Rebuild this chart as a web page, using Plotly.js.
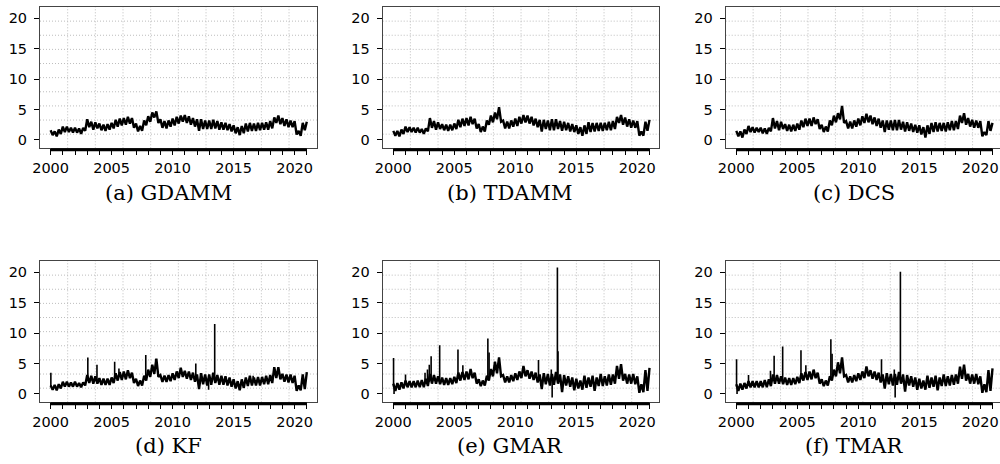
<!DOCTYPE html>
<html><head><meta charset="utf-8">
<script src="https://cdn.plot.ly/plotly-3.0.1.min.js"></script>
<style>html,body{margin:0;padding:0;background:#fff}</style>
</head><body><div id="chart" style="width:1000px;height:464px"></div>
<script>
// sampling: one reading every two months from 2000.0 to 2021.0 (alternating upper / lower side of the noisy band)
const startYear = 2000;
const stepsPerYear = 6;
const captions = ['(a) GDAMM', '(b) TDAMM', '(c) DCS', '(d) KF', '(e) GMAR', '(f) TMAR'];
const yTicks = [0, 5, 10, 15, 20];
const xTickYears = [2000,2001,2002,2003,2004,2005,2006,2007,2008,2009,2010,2011,2012,2013,2014,2015,2016,2017,2018,2019,2020,2021];
const xLabelYears = [2000, 2005, 2010, 2015, 2020];

const gdamm = [
1.6,0.8,1.4,0.6,1.7,1.0, 2.2,1.3,2.2,1.3,2.0,1.2, 2.0,1.2,1.9,1.0,2.0,1.5, 3.4,2.1,3.0,1.7,2.9,1.9,
2.7,1.6,2.5,1.5,2.6,1.7, 2.8,1.9,3.3,2.2,3.5,2.4, 3.6,2.5,3.8,2.7,3.6,2.0, 2.7,1.4,2.3,1.5,3.2,2.4,
3.9,3.0,4.5,3.7,4.7,2.8, 3.4,2.0,3.1,1.9,3.2,2.2, 3.5,2.4,3.8,2.7,4.0,3.0, 4.1,2.8,3.9,2.5,3.6,2.2,
3.4,1.5,3.4,1.8,3.2,1.8, 3.2,1.8,3.3,1.9,3.1,1.7, 2.9,1.7,2.8,1.6,2.6,1.4, 2.4,1.1,2.1,0.8,2.3,1.1,
2.7,1.4,2.8,1.5,2.7,1.5, 2.8,1.6,2.8,1.7,2.9,1.7, 3.1,1.9,3.7,2.8,4.0,2.6, 3.6,2.3,3.4,2.1,3.2,2.1,
3.1,0.9,1.5,0.7,2.8,1.6, 3.0];
const tdamm = [
1.5,0.7,1.5,0.6,1.7,1.0, 2.2,1.3,2.1,1.3,2.0,1.2, 2.0,1.2,1.8,1.0,1.9,1.4, 3.6,2.0,3.1,1.7,2.9,1.8,
2.6,1.6,2.5,1.5,2.5,1.6, 2.7,1.8,3.3,2.1,3.5,2.3, 3.6,2.4,3.8,2.6,3.5,1.9, 2.6,1.3,2.2,1.4,3.2,2.5,
4.0,2.9,4.5,3.4,5.4,3.0, 3.2,1.9,3.0,1.9,3.2,2.2, 3.5,2.3,3.8,2.7,4.1,2.9, 4.0,2.7,3.8,2.4,3.5,2.1,
3.3,1.4,3.3,1.8,3.2,1.6, 3.4,1.6,3.4,1.8,3.1,1.5, 3.0,1.6,2.8,1.4,2.6,1.3, 2.4,1.0,2.1,0.7,2.4,1.0,
2.9,1.3,2.8,1.4,2.8,1.5, 2.8,1.5,2.8,1.6,3.0,1.6, 3.1,1.8,3.8,2.8,4.1,2.5, 3.7,2.2,3.4,2.0,3.2,2.0,
3.1,0.7,1.4,0.7,3.0,1.5, 3.3];
const dcs = [
1.5,0.6,1.4,0.4,1.7,1.0, 2.3,1.3,2.1,1.2,2.0,1.3, 2.0,1.1,1.9,1.0,2.0,1.4, 3.6,1.9,3.1,1.6,3.0,1.8,
2.6,1.5,2.5,1.4,2.5,1.5, 2.7,1.7,3.2,2.1,3.5,2.3, 3.5,2.3,3.7,2.6,3.4,1.8, 2.5,1.3,2.2,1.4,3.2,2.4,
4.0,2.9,4.4,3.4,5.6,2.8, 3.1,1.9,3.0,1.9,3.2,2.2, 3.5,2.4,3.9,2.8,4.3,2.9, 4.0,2.6,3.7,2.3,3.5,2.0,
3.2,1.3,3.2,1.7,3.2,1.6, 3.3,1.6,3.3,1.7,3.0,1.4, 2.9,1.5,2.7,1.3,2.5,1.2, 2.4,0.9,2.1,0.4,2.4,1.0,
2.8,1.3,2.9,1.4,2.8,1.5, 2.8,1.4,2.9,1.6,3.1,1.6, 3.1,1.8,4.0,2.8,4.4,2.5, 3.6,2.2,3.3,2.0,3.2,2.0,
3.1,0.6,1.3,0.8,3.1,1.5, 2.8];
const kf = [
1.4,0.7,1.5,0.6,1.6,0.9, 2.0,1.2,2.0,1.2,1.9,1.2, 2.0,1.2,1.8,1.1,1.9,1.4, 3.1,1.8,3.0,1.7,2.9,1.7,
2.6,1.5,2.5,1.5,2.5,1.5, 2.7,1.8,3.4,2.2,3.6,2.3, 3.7,2.4,3.9,2.6,3.5,1.8, 2.5,1.3,2.2,1.4,3.0,2.2,
4.0,2.8,4.8,3.3,5.8,2.8, 3.1,2.0,3.0,2.0,3.1,2.1, 3.4,2.3,3.7,2.6,4.3,2.8, 3.8,2.5,3.7,2.3,3.5,2.0,
3.2,0.8,3.4,1.6,3.2,1.4, 3.2,1.5,3.5,1.8,3.1,1.5, 3.0,1.5,2.9,1.4,2.7,1.2, 2.4,0.9,2.1,0.6,2.4,1.0,
2.7,1.3,3.0,1.4,2.7,1.4, 2.8,1.4,2.8,1.6,3.0,1.6, 3.1,1.8,4.4,2.6,4.4,2.4, 3.3,2.0,3.2,1.9,3.2,1.8,
3.0,0.5,1.4,0.6,3.2,0.8, 3.6];
const gmar = [
1.7,0.5,1.8,0.7,1.9,0.9, 2.2,1.1,2.1,1.1,2.1,1.1, 2.2,1.1,2.3,1.1,2.5,1.3, 3.3,1.7,3.1,1.7,2.9,1.6,
2.7,1.5,2.6,1.5,2.6,1.6, 2.8,1.8,3.5,2.2,3.6,2.3, 3.7,2.4,4.1,2.6,3.5,1.7, 2.4,1.3,2.2,1.4,3.0,2.2,
4.1,2.9,5.3,3.4,6.0,2.9, 3.1,1.9,2.9,1.9,3.1,2.1, 3.4,2.3,3.7,2.6,4.6,2.9, 3.9,2.5,3.7,2.3,3.5,1.9,
3.2,0.8,3.4,1.6,3.3,1.4, 3.3,1.5,3.6,1.7,3.2,0.3, 3.1,1.4,2.9,1.2,2.7,0.6, 2.5,0.9,2.2,0.7,3.0,1.0,
2.7,1.2,3.0,0.5,2.7,1.3, 3.3,1.3,2.9,1.4,3.2,1.5, 3.2,1.7,4.6,2.5,4.9,2.2, 3.3,1.7,3.2,1.7,3.3,1.6,
2.9,0.2,1.6,0.3,3.9,0.5, 4.3];
const tmar = [
1.6,0.5,1.7,0.7,1.8,0.9, 2.1,1.1,2.1,1.1,2.1,1.1, 2.1,1.1,2.3,1.1,2.4,1.3, 3.2,1.7,3.1,1.7,2.9,1.6,
2.7,1.5,2.6,1.5,2.6,1.6, 2.8,1.8,3.4,2.2,3.6,2.3, 3.7,2.4,4.0,2.6,3.5,1.7, 2.4,1.3,2.2,1.4,2.9,2.2,
4.0,2.9,5.2,3.4,6.0,2.9, 3.1,1.9,2.9,1.9,3.1,2.1, 3.4,2.3,3.7,2.6,4.5,2.9, 3.9,2.5,3.7,2.3,3.5,1.9,
3.2,0.9,3.4,1.6,3.3,1.4, 3.3,1.5,3.6,1.7,3.2,0.4, 3.1,1.4,2.9,1.2,2.7,0.7, 2.5,0.9,2.2,0.7,3.0,1.0,
2.7,1.2,3.0,0.6,2.7,1.3, 3.2,1.3,2.9,1.4,3.1,1.5, 3.2,1.7,4.5,2.5,4.8,2.2, 3.3,1.7,3.2,1.7,3.3,1.6,
2.9,0.2,1.6,0.3,3.9,0.5, 4.2];

// isolated one-day spikes: date, spike end value, value of the series around it
const gdammSpikeX = [], gdammSpikeTop = [], gdammSpikeFoot = [];
const tdammSpikeX = [], tdammSpikeTop = [], tdammSpikeFoot = [];
const dcsSpikeX = [], dcsSpikeTop = [], dcsSpikeFoot = [];
const kfSpikeX    = [2000.02, 2003.05, 2003.8, 2005.25, 2005.6, 2007.8, 2011.9, 2012.95, 2013.45, 2016.6];
const kfSpikeTop  = [3.5, 6.0, 4.8, 5.3, 4.2, 6.4, 5.0, 0.7, 11.5, 3.0];
const kfSpikeFoot = [1.2, 2.2, 2.2, 2.5, 2.8, 2.6, 2.5, 2.5, 2.6, 2.0];
const gmarSpikeX    = [2000.02, 2000.06, 2001.0, 2002.6, 2002.8, 2002.95, 2003.1, 2003.8, 2005.3, 2005.7, 2007.75, 2007.85, 2011.9, 2012.95, 2013.02, 2013.45, 2013.5];
const gmarSpikeTop  = [5.9, 0.0, 3.2, 3.5, 4.0, 4.8, 6.2, 8.0, 7.3, 4.7, 9.1, 6.8, 5.6, 4.0, -0.6, 20.8, 7.0];
const gmarSpikeFoot = [1.2, 1.2, 1.5, 1.7, 1.8, 2.0, 2.2, 2.1, 2.4, 2.8, 2.4, 3.0, 2.4, 2.4, 2.4, 2.7, 2.7];
const tmarSpikeX    = [2000.02, 2000.06, 2001.0, 2002.8, 2003.1, 2003.8, 2005.3, 2005.7, 2007.75, 2007.85, 2011.9, 2012.95, 2013.02, 2013.45];
const tmarSpikeTop  = [5.7, 0.0, 3.1, 3.8, 6.3, 7.8, 7.2, 4.7, 9.0, 6.6, 5.7, 4.0, -0.6, 20.1];
const tmarSpikeFoot = [1.2, 1.2, 1.5, 1.8, 2.2, 2.1, 2.4, 2.8, 2.4, 3.0, 2.4, 2.4, 2.4, 2.7];

const series = [gdamm, tdamm, dcs, kf, gmar, tmar];
const spikes = [
  [gdammSpikeX, gdammSpikeTop, gdammSpikeFoot],
  [tdammSpikeX, tdammSpikeTop, tdammSpikeFoot],
  [dcsSpikeX, dcsSpikeTop, dcsSpikeFoot],
  [kfSpikeX, kfSpikeTop, kfSpikeFoot],
  [gmarSpikeX, gmarSpikeTop, gmarSpikeFoot],
  [tmarSpikeX, tmarSpikeTop, tmarSpikeFoot]
];

// layout geometry (pixel-derived domains)
const W = 1000, H = 464;
const colPx = [[40, 316.7], [382.7, 659.4], [725.7, 1000]];
const rowPx = [[7, 148.3], [261, 402.3]];
const pxPerYear = 12.2;
const xStart = 1999.13;
const yRange = [-1.37, 21.85];
const capX = [168, 510, 854];
const capY = [193, 446];

const traces = [];
const layout = {
  width: W, height: H,
  margin: {l: 0, r: 0, t: 0, b: 0},
  paper_bgcolor: '#fff', plot_bgcolor: '#fff',
  showlegend: false,
  shapes: [], annotations: []
};
const font = {family: 'DejaVu Sans, Arial, sans-serif', size: 14.5, color: '#000'};
const gridLine = {color: '#bdbdbd', width: 1, dash: '1px,2px'};

for (let k = 0; k < 6; k++) {
  const r = Math.floor(k / 3), c = k % 3;
  const ax = k + 1;
  const xa = 'xaxis' + (ax === 1 ? '' : ax), ya = 'yaxis' + (ax === 1 ? '' : ax);
  const xr = 'x' + (ax === 1 ? '' : ax), yr = 'y' + (ax === 1 ? '' : ax);
  const [x0p, x1p] = colPx[c];
  const [y0p, y1p] = rowPx[r];
  layout[xa] = {
    domain: [x0p / W, x1p / W],
    range: [xStart, xStart + (x1p - x0p) / pxPerYear],
    anchor: yr, showgrid: false, zeroline: false,
    showline: true, mirror: true, linecolor: '#444', linewidth: 1,
    ticks: 'outside', ticklen: 6, tickwidth: 1, tickcolor: '#000',
    tickvals: xTickYears,
    ticktext: xTickYears.map(y => xLabelYears.includes(y) ? String(y) : ''),
    tickfont: font, fixedrange: true
  };
  layout[ya] = {
    domain: [1 - y1p / H, 1 - y0p / H],
    range: yRange, anchor: xr, showgrid: false, zeroline: false,
    showline: true, mirror: c === 2 ? false : true, linecolor: '#444', linewidth: 1,
    ticks: 'outside', ticklen: 5, tickwidth: 1, tickcolor: '#000',
    tickvals: yTicks, ticktext: yTicks.map(String),
    tickfont: font, ticklabelstandoff: 4, fixedrange: true
  };
  // 10x10 dotted grid dividing the plot region
  for (let g = 1; g < 10; g++) {
    layout.shapes.push({type: 'line', xref: xr + ' domain', yref: yr + ' domain',
      x0: g / 10, x1: g / 10, y0: 0, y1: 1, line: gridLine, layer: 'below'});
    layout.shapes.push({type: 'line', xref: xr + ' domain', yref: yr + ' domain',
      x0: 0, x1: 1, y0: g / 10, y1: g / 10, line: gridLine, layer: 'below'});
  }
  // dense axis rug under the time span
  layout.shapes.push({type: 'rect', xref: xr, yref: yr + ' domain',
    x0: xTickYears[0], x1: xTickYears[xTickYears.length - 1], y0: -0.02, y1: 0,
    fillcolor: '#000', line: {width: 0}});

  const vals = series[k];
  traces.push({
    type: 'scatter', mode: 'lines', xaxis: xr, yaxis: yr,
    x: vals.map((v, i) => startYear + i / stepsPerYear), y: vals,
    line: {color: '#000', width: 2.4, simplify: false}, hoverinfo: 'skip'
  });
  const [sx, st, sf] = spikes[k];
  if (sx.length) {
    const X = [], Y = [];
    sx.forEach((d, i) => { X.push(d, d, null); Y.push(sf[i], st[i], null); });
    traces.push({type: 'scatter', mode: 'lines', xaxis: xr, yaxis: yr, x: X, y: Y,
      line: {color: '#000', width: 1.6, simplify: false}, hoverinfo: 'skip', connectgaps: false});
  }
  layout.annotations.push({
    xref: 'paper', yref: 'paper', x: capX[c] / W, y: 1 - capY[r] / H,
    xanchor: 'center', yanchor: 'middle', showarrow: false,
    text: captions[k], font: {family: 'DejaVu Serif, Liberation Serif, serif', size: 21, color: '#000'}
  });
}

Plotly.newPlot('chart', traces, layout, {staticPlot: true, displayModeBar: false});
</script>
</body></html>
